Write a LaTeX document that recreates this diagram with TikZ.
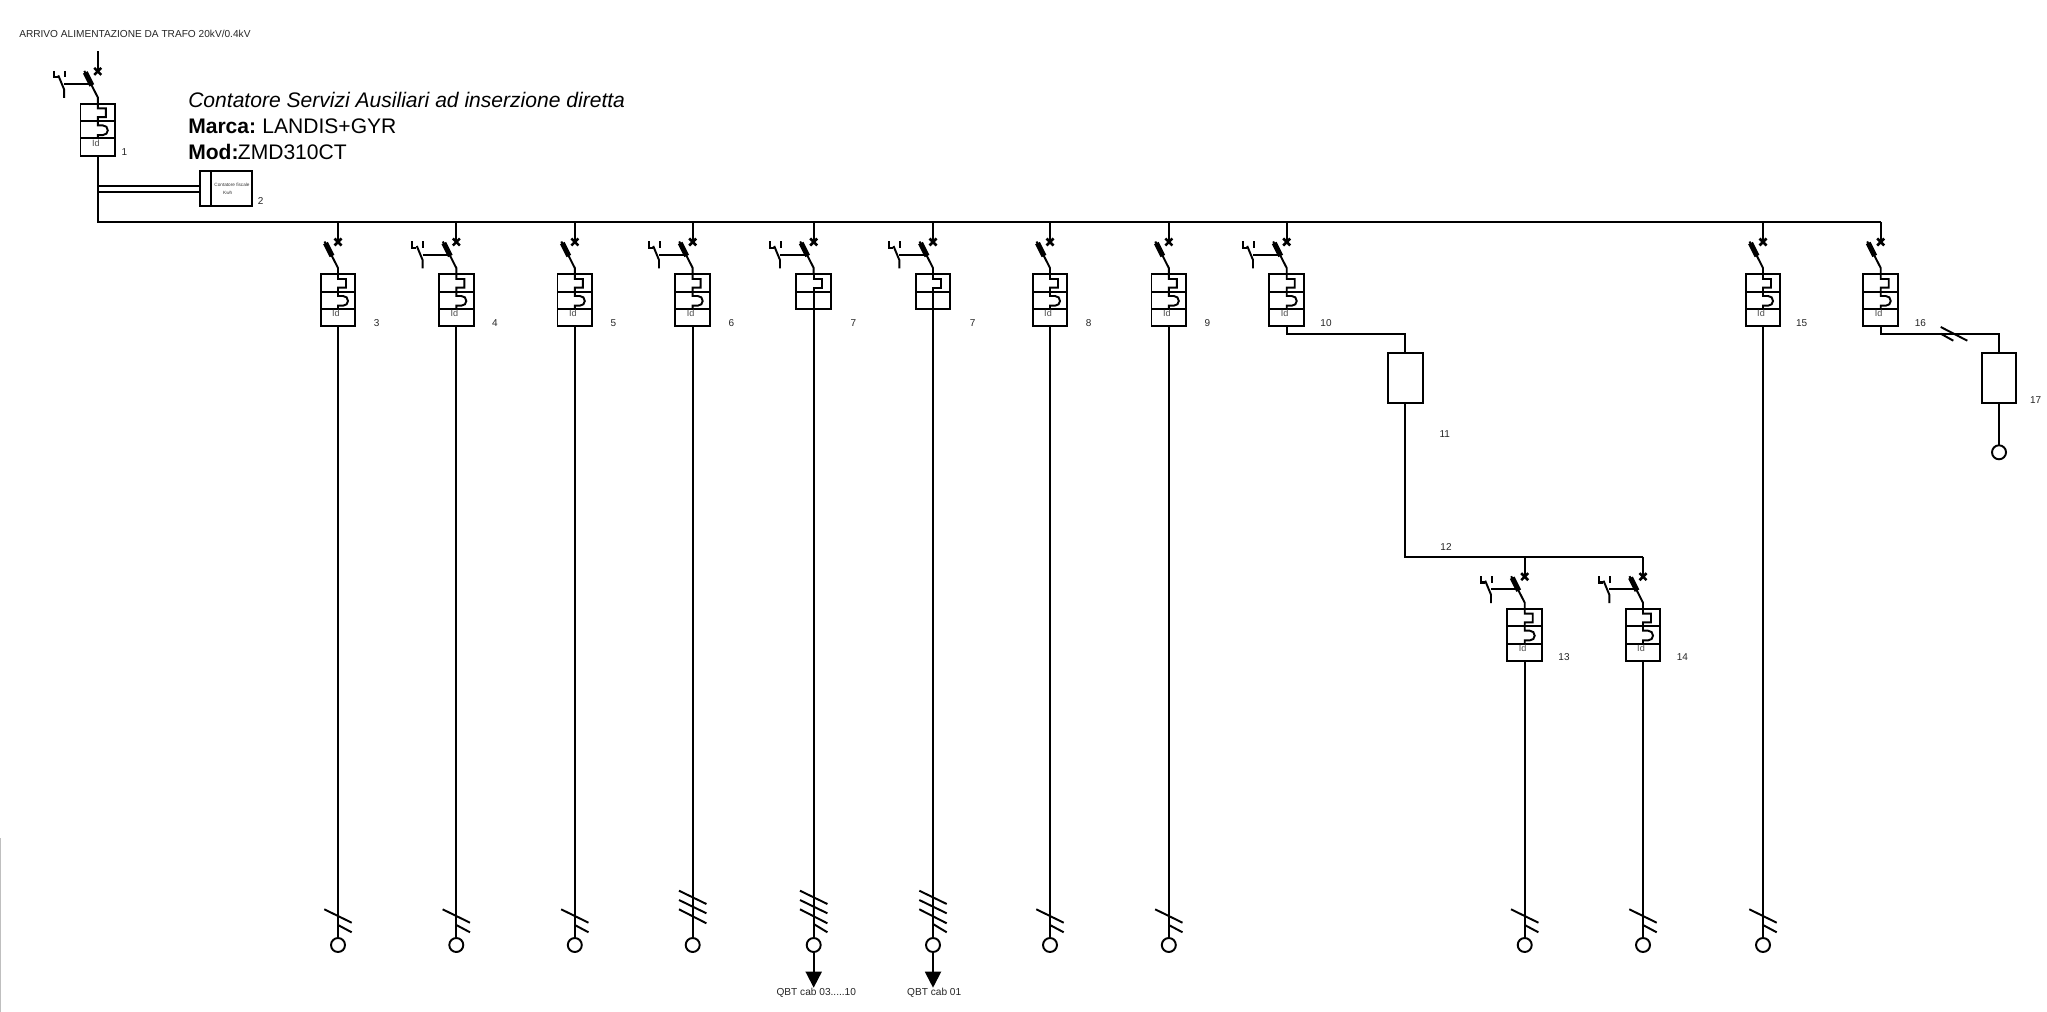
\documentclass[tikz,border=0pt]{standalone}
\usepackage{fontspec}
\setmainfont{Liberation Sans}
\usetikzlibrary{arrows.meta}
\tikzset{
  w/.style={line width=1.45pt,line cap=butt,line join=miter},
  cell/.style={draw,line width=1.45pt,inner sep=0pt,outer sep=0pt,fill=none},
  term/.style={draw,circle,line width=1.45pt,minimum size=10.5pt,inner sep=0pt,outer sep=0pt},
  lab/.style={inner sep=0pt,text=black!85,font=\fontsize{7.5}{8}\selectfont},
  idlab/.style={inner sep=0pt,text=black!70,font=\fontsize{6.8}{7}\selectfont},
  tiny/.style={inner sep=0pt,text=black!80,font=\fontsize{3.5}{4}\selectfont},
  title/.style={inner sep=0pt,anchor=west,font=\fontsize{15.8}{18}\selectfont},
  blade/.pic={
    \coordinate (-top) at (0,0);
    \draw[w] (0,0) -- (0,20);
    \draw[line width=1.9pt] (-3.5,16.5) -- (3.5,23.5) (-3.5,23.5) -- (3.5,16.5);
    \draw[w] (-13.5,19.5) -- (0,46) -- (0,52.3);
    \draw[line width=3.9pt] (-12.5,21) -- (-6,34);
  },
  auxsw/.pic={
    \draw[line width=1.7pt] (-44,19.5) -- (-44,25.7) -- (-40,25.7);
    \draw[line width=1.7pt] (-33,19.5) -- (-33,26);
    \draw[w] (-39.5,24) -- (-33.7,38) -- (-33.7,46.5);
    \draw[w] (-33.7,32.7) -- (-8,32.7);
  },
  rcbo/.pic={
    \pic {blade};
    \node[cell,minimum width=26pt,minimum height=39pt,anchor=north] (-box) at (0,52.3) {};
    \draw[w] (-17.3,69.6) -- (17.3,69.6) (-17.3,87) -- (17.3,87);
    \draw[w] (0,52.3) -- (0,57) -- (8,57) -- (8,65.7) -- (0,65.7) -- (0,74) -- (5,74)
      .. controls (8,74) and (10,76) .. (10,79) .. controls (10,81.5) and (8,83.7) .. (5,83.7)
      -- (0,83.7) -- (0,87);
    \node[idlab] (-id) at (-2,91.5) {Id};
  },
  mcbtwo/.pic={
    \pic {blade};
    \node[cell,minimum width=26pt,minimum height=26pt,anchor=north] (-box) at (0,52.3) {};
    \draw[w] (-17.3,69.6) -- (17.3,69.6);
    \draw[w] (0,52.3) -- (0,57) -- (8,57) -- (8,65.7) -- (0,65.7) -- (0,87);
  },
  ticktwo/.pic={
    \draw[w] (-13.7,-35.7) -- (13.7,-22.3) (0,-20) -- (13.7,-12.7);
  },
  tickthree/.pic={
    \draw[w] (-13.7,-54.3) -- (13.7,-41) (-13.7,-45) -- (13.7,-31.7) (-13.7,-35.7) -- (13.7,-21.7);
  },
  tickfour/.pic={
    \pic {tickthree};
    \draw[w] (0,-21) -- (13.7,-12.7);
  },
}
\begin{document}
\begin{tikzpicture}[x=0.75pt,y=-0.75pt]
\useasboundingbox (0,0) rectangle (2047,1012);
\fill[white] (0,0) rectangle (2047,1012);
\draw[black!25,line width=0.9pt] (0.5,838) -- (0.5,1012);

% incoming breaker and meter
\node[lab,anchor=west,font=\fontsize{7.6}{8}\selectfont] (arrivo) at (19,33.5) {ARRIVO ALIMENTAZIONE DA TRAFO 20kV/0.4kV};
\pic (b1) at (97.8,51.4) {rcbo};
\pic at (97.8,51.4) {auxsw};
\node[lab] (l1) at (124.3,152.3) {1};
\node[title] (t1) at (188,100) {\itshape Contatore Servizi Ausiliari ad inserzione diretta};
\node[title] (t2) at (188,126) {\textbf{Marca:}\kern-1.2pt{} LANDIS+GYR};
\node[title] (t3) at (188,152) {\textbf{Mod:}\kern-0.5pt ZMD310CT};
\node[cell,minimum width=39pt,minimum height=26pt] (meter) at (226,188.65) {};
\draw[w] (210.7,171.3) -- (210.7,206);
\node[tiny] (m1) at (232,185) {Contatore fiscale};
\node[tiny] (m2) at (227.7,193.3) {Kwh};
\node[lab] (l2) at (260.7,201.3) {2};
\draw[w] (b1-box.south |- 0,185.7) -- (meter.west |- 0,185.7);
\draw[w] (b1-box.south |- 0,191.7) -- (meter.west |- 0,191.7);

% breakers on the main bus
\foreach \n/\X in {3/338,5/574.8,8/1050,9/1168.8,15/1763}{
  \pic (b\n) at (\X,222) {rcbo};
  \node[lab] (l\n) at (\X+38.7,322.7) {\n};
  \node[term] (e\n) at (\X,945) {};
  \draw[w] (b\n-box.south) -- (e\n.north);
  \pic at (\X,945) {ticktwo};
}
\foreach \n/\X in {4/456.3}{
  \pic (b\n) at (\X,222) {rcbo};
  \pic at (\X,222) {auxsw};
  \node[lab] (l\n) at (\X+38.7,322.7) {\n};
  \node[term] (e\n) at (\X,945) {};
  \draw[w] (b\n-box.south) -- (e\n.north);
  \pic at (\X,945) {ticktwo};
}
\pic (b6) at (692.7,222) {rcbo};
\pic at (692.7,222) {auxsw};
\node[lab] (l6) at (731.4,322.7) {6};
\node[term] (e6) at (692.7,945) {};
\draw[w] (b6-box.south) -- (e6.north);
\pic at (692.7,945) {tickthree};

% the two breakers towards QBT
\foreach \n/\X/\txt/\dx in {7a/813.7/{QBT cab 03.....10}/2.6,7b/933/{QBT cab 01}/1.2}{
  \pic (b\n) at (\X,222) {mcbtwo};
  \pic at (\X,222) {auxsw};
  \node[lab] (l\n) at (\X+39.6,322.7) {7};
  \node[term] (e\n) at (\X,945) {};
  \draw[w] (b\n-box.south) -- (e\n.north);
  \pic at (\X,945) {tickfour};
  \coordinate (a\n) at (\X,987.7);
  \draw[w,-{Triangle[length=12pt,width=12pt]}] (e\n.south) -- (a\n);
  \node[lab,font=\fontsize{7.6}{9}\selectfont] (q\n) at (\X+\dx,992.9) {\txt};
}

% breaker 10, fuse 11, sub-bus 12
\pic (b10) at (1286.7,222) {rcbo};
\pic at (1286.7,222) {auxsw};
\node[lab] (l10) at (1326,322.7) {10};
\node[cell,minimum width=26pt,minimum height=37.5pt] (f11) at (1405.3,378.3) {};
\node[lab] (l11) at (1444.7,434.3) {11};
\node[lab] (l12) at (1446,546.8) {12};
\draw[w] (b10-box.south) -- (b10-box.south |- 0,333.7) -| (f11.north);
\foreach \n/\X in {13/1524.7,14/1643}{
  \pic (b\n) at (\X,556.7) {rcbo};
  \pic at (\X,556.7) {auxsw};
  \node[lab] (l\n) at (\X+39.3,657.3) {\n};
  \node[term] (e\n) at (\X,945) {};
  \draw[w] (b\n-box.south) -- (e\n.north);
  \pic at (\X,945) {ticktwo};
}
\draw[w] (f11.south) -- (f11.south |- b14-top) -- (b14-top);
\draw[w] (b13-top) -- (b14-top);

% breaker 16 and load 17
\pic (b16) at (1880.7,222) {rcbo};
\node[lab] (l16) at (1920.3,322.7) {16};
\node[cell,minimum width=26pt,minimum height=37.5pt] (f17) at (1999,378.3) {};
\node[lab] (l17) at (2035.7,400.3) {17};
\node[term] (e17) at (1999,452.3) {};
\draw[w] (b16-box.south) -- (b16-box.south |- 0,333.7) -| (f17.north);
\draw[w] (f17.south) -- (e17.north);
\draw[w] (1940.7,327) -- (1967.3,340.7) (1940.7,333.7) -- (1953.3,340.7);

% main bus
\draw[w] (b1-box.south) -- (b1-box.south |- b16-top) -- (b16-top);
\foreach \n in {3,4,5,6,7a,7b,8,9,10,15}{
  \draw[w] (b\n-top) -- (b\n-top |- b16-top);
}
\end{tikzpicture}
\end{document}
